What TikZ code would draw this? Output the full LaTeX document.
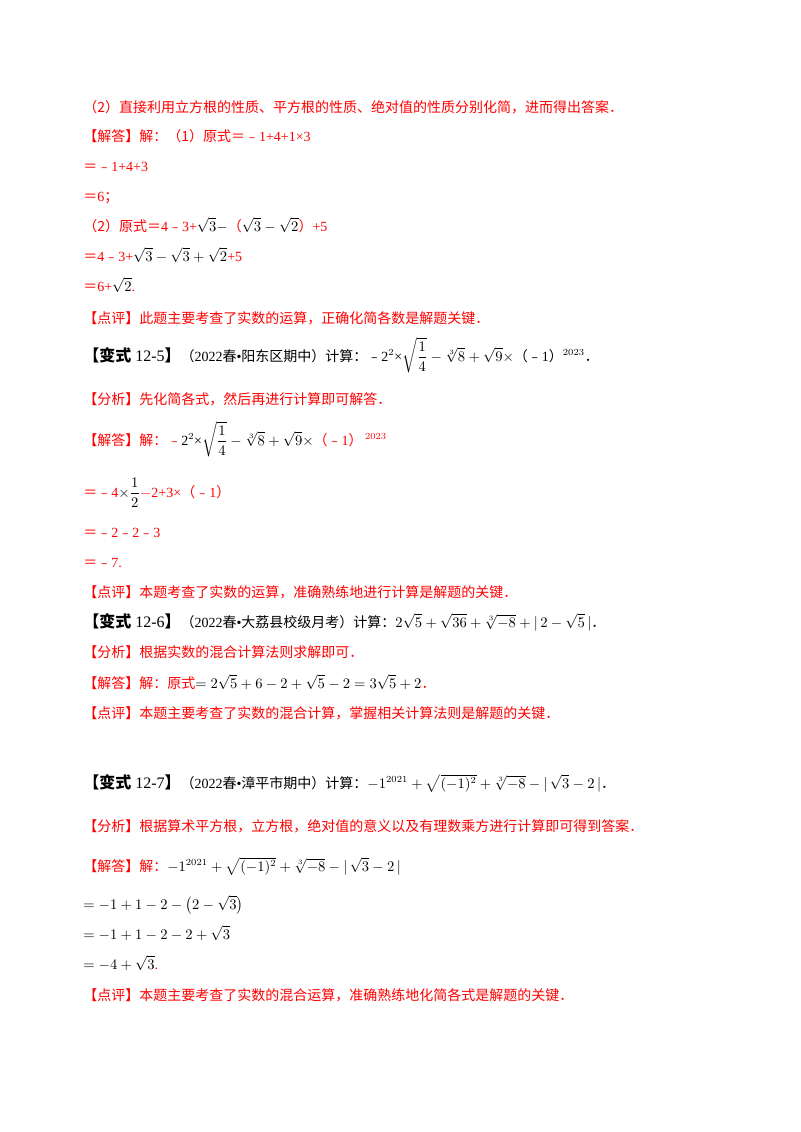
\documentclass[tikz,border=0pt]{standalone}
\usepackage{amsmath}
\usepackage{fontspec}
\setmainfont{Liberation Serif}
\newfontfamily\cjk{Noto Sans CJK SC}
\newcommand{\C}[1]{{\cjk #1}}
\definecolor{ansred}{HTML}{FF0000}
\newcommand{\K}[1]{{\color{black}#1}}
\begin{document}
\begin{tikzpicture}[x=0.75pt,y=-0.75pt,
  txt/.style={anchor=base west,inner sep=0pt,font=\fontsize{10.5}{12}\selectfont,text=ansred},
  blk/.style={txt,text=black}]
\useasboundingbox (0,0) rectangle (800,1132);
\fill[white] (0,0) rectangle (800,1132);
\node[txt] (l1) at (83,112) {\C{（2）直接利用立方根的性质、平方根的性质、绝对值的性质分别化简，进而得出答案．}};
\node[txt] (l2) at (83,141) {\C{【解答】解：（1）原式＝﹣}1+4+1×3};
\node[txt] (l3) at (83,171) {\C{＝﹣}1+4+3};
\node[txt] (l4) at (83,201) {\C{＝}6\C{；}};
\node[txt] (l5) at (83,231) {\C{（2）原式＝}4\C{﹣}3+\K{$\sqrt3-$}\C{（}\K{$\sqrt3-\sqrt2$}\C{）}+5};
\node[txt] (l6) at (83,261) {\C{＝}4\C{﹣}3+\K{$\sqrt3-\sqrt3+\sqrt2$}+5};
\node[txt] (l7) at (83,291) {\C{＝}6+\K{$\sqrt2$}.};
\node[txt] (l8) at (83,323) {\C{【点评】此题主要考查了实数的运算，正确化简各数是解题关键．}};
\node[blk] (v5) at (83,361) {{\fontsize{12}{14}\selectfont\C{\textbf{【变式}} 12-5\C{\textbf{】}}}\C{（}2022\C{春}•\C{阳东区期中）计算：﹣}2$^2$×$\sqrt{\dfrac14}-\sqrt[3]8+\sqrt9\times$\C{（﹣}1\C{）}$^{2023}$\C{．}};
\node[txt] (a5) at (83,404) {\C{【分析】先化简各式，然后再进行计算即可解答．}};
\node[txt] (j5) at (83,445) {\C{【解答】解：﹣}\K{2$^2$×$\sqrt{\dfrac14}-\sqrt[3]8+\sqrt9\times$}\C{（﹣}1\C{）}\,$^{2023}$};
\node[txt] (s1) at (83,497) {\C{＝﹣}4\K{$\times\dfrac12$}$-$2+3×\C{（﹣}1\C{）}};
\node[txt] (s2) at (83,537) {\C{＝﹣}2\C{﹣}2\C{﹣}3};
\node[txt] (s3) at (83,567) {\C{＝﹣}7.};
\node[txt] (p5) at (83,597) {\C{【点评】本题考查了实数的运算，准确熟练地进行计算是解题的关键．}};
\node[blk] (v6) at (83,627) {{\fontsize{12}{14}\selectfont\C{\textbf{【变式}} 12-6\C{\textbf{】}}}\C{（}2022\C{春}•\C{大荔县校级月考）计算：}$2\sqrt5+\sqrt{36}+\sqrt[3]{-8}+|\,2-\sqrt5\,|$\C{．}};
\node[txt] (a6) at (83,657) {\C{【分析】根据实数的混合计算法则求解即可．}};
\node[txt] (j6) at (83,688) {\C{【解答】解：原式}\K{$=2\sqrt5+6-2+\sqrt5-2=3\sqrt5+2$}\C{．}};
\node[txt] (p6) at (83,718) {\C{【点评】本题主要考查了实数的混合计算，掌握相关计算法则是解题的关键．}};
\node[blk] (v7) at (83,788) {{\fontsize{12}{14}\selectfont\C{\textbf{【变式}} 12-7\C{\textbf{】}}}\C{（}2022\C{春}•\C{漳平市期中）计算：}$-1^{2021}+\sqrt{(-1)^2}+\sqrt[3]{-8}-|\,\sqrt3-2\,|$\C{．}};
\node[txt] (a7) at (83,831) {\C{【分析】根据算术平方根，立方根，绝对值的意义以及有理数乘方进行计算即可得到答案．}};
\node[txt] (j7) at (83,871) {\C{【解答】解：}\K{$-1^{2021}+\sqrt{(-1)^2}+\sqrt[3]{-8}-|\,\sqrt3-2\,|$}};
\node[blk] (t1) at (83,909) {$=-1+1-2-\bigl(2-\sqrt3\bigr)$};
\node[blk] (t2) at (83,939) {$=-1+1-2-2+\sqrt3$};
\node[blk] (t3) at (83,969) {$=-4+\sqrt3$\textcolor{ansred}{.}};
\node[txt] (p7) at (83,1000) {\C{【点评】本题主要考查了实数的混合运算，准确熟练地化简各式是解题的关键．}};
\end{tikzpicture}
\end{document}
